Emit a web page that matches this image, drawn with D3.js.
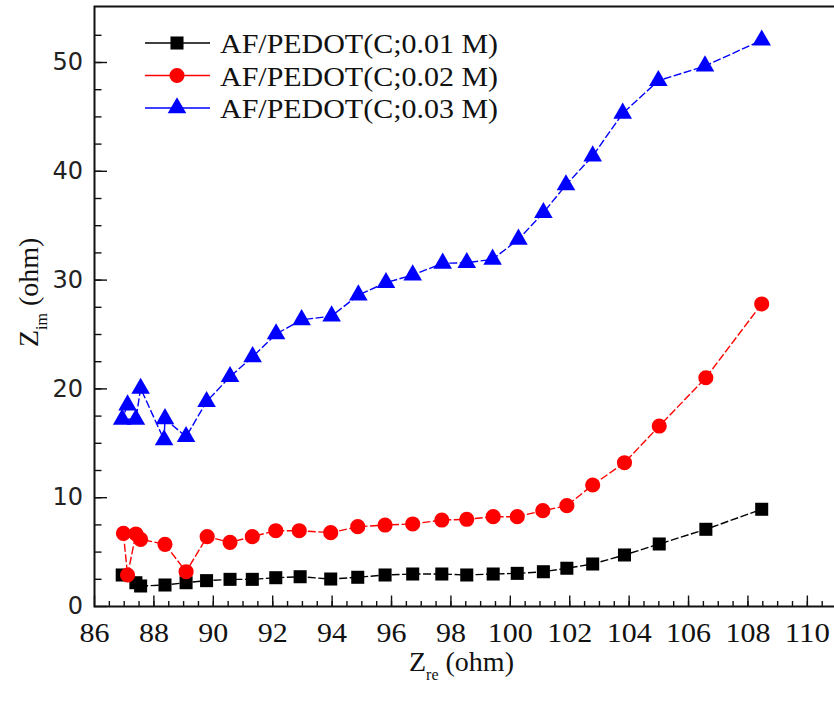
<!DOCTYPE html>
<html>
<head>
<meta charset="utf-8">
<script src="https://cdn.jsdelivr.net/npm/d3@7"></script>
<style>
  body { margin: 0; background: #fff; }
  svg { display: block; }
  .serif text, text.serif { font-family: "Liberation Serif", "Times New Roman", serif; }
</style>
</head>
<body>
<svg width="834" height="705"></svg>
<script>
// Z_re / Z_im readings for each sample (ohm)
const blackX = [86.95, 87.41, 87.57, 88.39, 89.1, 89.79, 90.58, 91.33, 92.12, 92.94, 93.97, 94.88, 95.8, 96.73, 97.71, 98.55, 99.44, 100.25, 101.13, 101.92, 102.79, 103.86, 105.03, 106.6, 108.48];
const blackY = [2.85, 2.14, 1.84, 1.93, 2.14, 2.33, 2.45, 2.45, 2.6, 2.69, 2.48, 2.64, 2.85, 2.94, 2.94, 2.85, 2.94, 3.0, 3.15, 3.47, 3.86, 4.69, 5.7, 7.05, 8.89];

const redX = [86.99, 87.13, 87.41, 87.57, 88.39, 89.1, 89.81, 90.58, 91.33, 92.12, 92.91, 93.97, 94.88, 95.8, 96.73, 97.71, 98.55, 99.44, 100.25, 101.11, 101.92, 102.79, 103.86, 105.03, 106.6, 108.48];
const redY = [6.68, 2.85, 6.62, 6.13, 5.67, 3.15, 6.37, 5.85, 6.37, 6.92, 6.92, 6.74, 7.29, 7.44, 7.54, 7.9, 7.97, 8.21, 8.21, 8.76, 9.22, 11.12, 13.17, 16.54, 20.98, 27.76];

const blueX = [87.13, 86.95, 87.41, 87.57, 88.36, 88.39, 89.1, 89.79, 90.58, 91.34, 92.13, 92.99, 94.0, 94.9, 95.83, 96.73, 97.74, 98.55, 99.42, 100.29, 101.13, 101.89, 102.79, 103.8, 105.0, 106.57, 108.48];
const blueY = [18.47, 17.16, 17.16, 20.0, 15.26, 17.2, 15.56, 18.78, 21.08, 22.9, 25.0, 26.3, 26.65, 28.58, 29.72, 30.42, 31.5, 31.55, 31.86, 33.7, 36.15, 38.7, 41.36, 45.28, 48.28, 49.63, 52.0];

const seriesNames = ["AF/PEDOT(C;0.01 M)", "AF/PEDOT(C;0.02 M)", "AF/PEDOT(C;0.03 M)"];
const xTicks = d3.range(86, 111, 2);
const yTicks = [0, 10, 20, 30, 40, 50];

const svg = d3.select("svg");

const x = d3.scaleLinear().domain([86, 111.5]).range([94, 851.4]);
const y = d3.scaleLinear().domain([0, 55]).range([606, 7.6]);

const series = [
  {name: seriesNames[0], color: "#000000", shape: d3.symbolSquare, size: 170, pts: blackX.map((v, i) => [v, blackY[i]])},
  {name: seriesNames[1], color: "#ff0000", shape: d3.symbolCircle, size: 180, pts: redX.map((v, i) => [v, redY[i]])},
  {name: seriesNames[2], color: "#0000ff", shape: d3.symbolTriangle, size: 150, pts: blueX.map((v, i) => [v, blueY[i]])}
];

// minor ticks
svg.append("g")
    .attr("transform", "translate(0,606)")
    .call(d3.axisBottom(x).tickValues(d3.range(86.5, 111.5, 0.5)).tickSize(-5).tickFormat(""))
    .call(g => g.select(".domain").remove());
svg.append("g")
    .attr("transform", "translate(94,0)")
    .call(d3.axisLeft(y).tickValues(d3.range(2.5, 55, 2.5)).tickSize(-7.5).tickFormat(""))
    .call(g => g.select(".domain").remove());

// major ticks + labels (picture is a little stretched sideways, hence textLength)
const xAxis = svg.append("g")
    .attr("class", "serif")
    .attr("transform", "translate(0,606)")
    .call(d3.axisBottom(x).tickValues(xTicks).tickSize(-10.5).tickFormat(d3.format("d")))
    .attr("font-family", null)
    .attr("font-size", 27);
xAxis.select(".domain").remove();
xAxis.selectAll("text")
    .attr("y", 36).attr("dy", null)
    .attr("textLength", d => String(d).length * 15)
    .attr("lengthAdjust", "spacingAndGlyphs")
    .attr("fill", "#111");

const yAxis = svg.append("g")
    .attr("transform", "translate(94,0)")
    .call(d3.axisLeft(y).tickValues(yTicks).tickSize(-13).tickPadding(11).tickFormat(d3.format("d")))
    .attr("font-family", "DejaVu Sans, sans-serif")
    .attr("font-size", 24);
yAxis.select(".domain").remove();
yAxis.selectAll("text").attr("fill", "#222");

svg.selectAll(".tick line").attr("stroke", "#111").attr("stroke-width", 1.4);

// frame (left, top, bottom)
svg.append("path")
    .attr("d", "M860,6.5H94.5V606.5H860")
    .attr("fill", "none")
    .attr("stroke", "#111")
    .attr("stroke-width", 2);

// series
const line = d3.line().x(d => x(d[0])).y(d => y(d[1]));
series.forEach(s => {
  svg.append("path")
      .datum(s.pts)
      .attr("d", line)
      .attr("fill", "none")
      .attr("stroke", s.color)
      .attr("stroke-width", 1.4)
      .attr("stroke-dasharray", "8,2.5");
  svg.append("g").selectAll("path")
      .data(s.pts)
      .join("path")
      .attr("transform", d => `translate(${x(d[0])},${y(d[1])})`)
      .attr("d", d3.symbol(s.shape, s.size))
      .attr("fill", s.color);
});

// legend
const legend = svg.append("g").attr("class", "serif");
series.forEach((s, i) => {
  const ly = 43 + i * 32.5;
  legend.append("line")
      .attr("x1", 145).attr("x2", 210)
      .attr("y1", ly).attr("y2", ly)
      .attr("stroke", s.color).attr("stroke-width", 1.4);
  legend.append("path")
      .attr("transform", `translate(177,${ly})`)
      .attr("d", d3.symbol(s.shape, s.size))
      .attr("fill", s.color);
  legend.append("text")
      .attr("x", 220).attr("y", ly + 10)
      .attr("font-size", 28)
      .attr("textLength", 278)
      .attr("lengthAdjust", "spacingAndGlyphs")
      .attr("fill", "#111")
      .text(s.name);
});

// axis titles
const xt = svg.append("text")
    .attr("class", "serif")
    .attr("x", 409).attr("y", 671)
    .attr("font-size", 28)
    .attr("fill", "#111");
xt.append("tspan").text("Z");
xt.append("tspan").attr("font-size", 16).attr("dy", 9).text("re");
xt.append("tspan").attr("dy", -9).text(" (ohm)");

const yt = svg.append("text")
    .attr("class", "serif")
    .attr("transform", "translate(38,347) rotate(-90)")
    .attr("font-size", 28)
    .attr("fill", "#111");
yt.append("tspan").text("Z");
yt.append("tspan").attr("font-size", 16).attr("dy", 9).text("im");
yt.append("tspan").attr("dy", -9).text("  (ohm)");
</script>
</body>
</html>
